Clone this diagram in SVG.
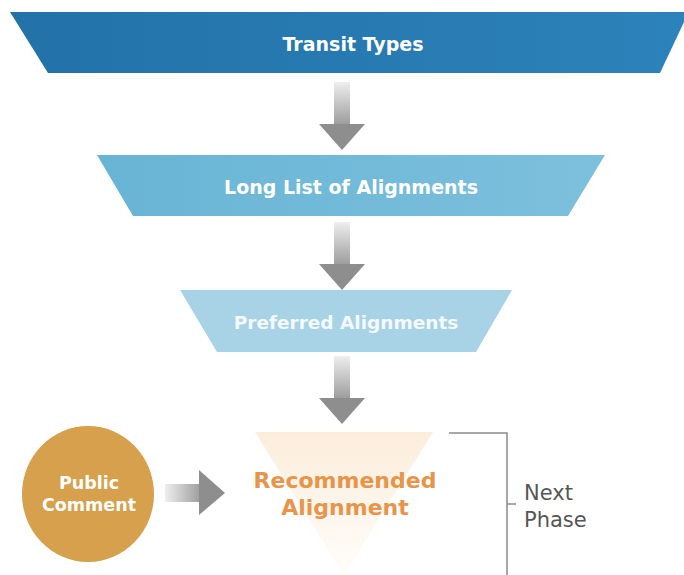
<svg xmlns="http://www.w3.org/2000/svg" width="684" height="575" viewBox="0 0 684 575">
<defs>
  <linearGradient id="gTop" x1="0" y1="0" x2="1" y2="0">
    <stop offset="0" stop-color="#2272A8"/>
    <stop offset="1" stop-color="#2C82BA"/>
  </linearGradient>
  <linearGradient id="gMid" x1="0" y1="0" x2="1" y2="0">
    <stop offset="0" stop-color="#68B4D5"/>
    <stop offset="1" stop-color="#7DC0DD"/>
  </linearGradient>
  <linearGradient id="gTri" x1="0" y1="0" x2="0" y2="1">
    <stop offset="0" stop-color="#FCEDDB"/>
    <stop offset="1" stop-color="#FFFDFA"/>
  </linearGradient>
  <linearGradient id="gShaftV" x1="0" y1="0" x2="0" y2="1">
    <stop offset="0" stop-color="#EEEEEE"/>
    <stop offset="1" stop-color="#9A9A9A"/>
  </linearGradient>
  <linearGradient id="gShaftH" x1="0" y1="0" x2="1" y2="0">
    <stop offset="0" stop-color="#EEEEEE"/>
    <stop offset="1" stop-color="#9A9A9A"/>
  </linearGradient>
  <g id="downArrow">
    <rect x="-8" y="0" width="16" height="44" fill="url(#gShaftV)"/>
    <polygon points="-23,42 23,42 0,68" fill="#8E8E8E"/>
  </g>
</defs>
<style>
  .lbl { font-family: "DejaVu Sans", Verdana, sans-serif; font-weight: bold; text-anchor: middle; }
  .white { fill: #FFFFFF; font-size: 19px; }
  .pref { fill: #F4F9FC; font-size: 18.5px; }
  .circ { fill: #FFFFFF; font-size: 17.5px; }
  .orange { fill: #E8944A; font-size: 22px; }
  .side { font-family: "DejaVu Sans", Verdana, sans-serif; fill: #555555; font-size: 21px; }
  .br { stroke: #8A8A8A; stroke-width: 1.5; fill: none; }
</style>
<rect width="684" height="575" fill="#FFFFFF"/>

<g id="transit-types">
  <polygon points="10,12 684,12 684,22 660,73 48,73" fill="url(#gTop)"/>
  <text class="lbl white" x="353" y="51">Transit Types</text>
</g>

<g id="long-list">
  <polygon points="97,155 605,155 568,216 133,216" fill="url(#gMid)"/>
  <text class="lbl white" x="351" y="194">Long List of Alignments</text>
</g>

<g id="preferred">
  <polygon points="180,290 512,290 476,352 217,352" fill="#A8D3E6"/>
  <text class="lbl pref" x="346" y="329">Preferred Alignments</text>
</g>

<g id="recommended">
  <polygon points="255,432 433,432 344,575" fill="url(#gTri)"/>
  <text class="lbl orange" x="345" y="488">Recommended</text>
  <text class="lbl orange" x="345" y="515">Alignment</text>
</g>

<g id="public-comment">
  <ellipse cx="88" cy="494" rx="66" ry="68" fill="#D6A04C"/>
  <text class="lbl circ" x="89" y="489">Public</text>
  <text class="lbl circ" x="89" y="511">Comment</text>
</g>

<g id="next-phase">
  <path class="br" d="M449,433 H507 V575 M507,504 H516"/>
  <text class="side" x="524" y="500">Next</text>
  <text class="side" x="524" y="527">Phase</text>
</g>

<g id="connectors">
  <use href="#downArrow" x="342" y="82"/>
  <use href="#downArrow" x="342" y="222"/>
  <use href="#downArrow" x="342" y="356"/>
  <rect x="165" y="484" width="37" height="18" fill="url(#gShaftH)"/>
  <polygon points="199,470 199,515 225,493" fill="#8E8E8E"/>
</g>
</svg>
